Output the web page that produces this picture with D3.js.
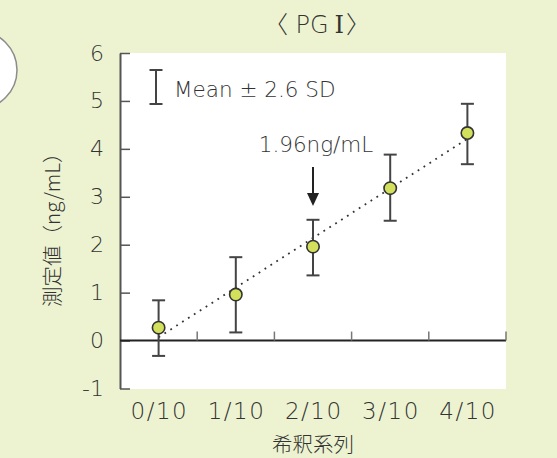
<!DOCTYPE html>
<html>
<head>
<meta charset="utf-8">
<script src="https://cdn.jsdelivr.net/npm/d3@7"></script>
<style>
  html, body { margin: 0; padding: 0; background: #edf3d1; }
  svg { display: block; }
  text { fill: #333; }
  .lat { font-family: "DejaVu Sans", sans-serif; font-weight: 300; }
  .cjk { font-family: "Noto Sans CJK JP", sans-serif; font-weight: 300; }
  .ser { font-family: "DejaVu Serif", "Liberation Serif", serif; font-weight: 300; }
</style>
</head>
<body>
<svg id="chart" width="557" height="458"></svg>
<script>
(function () {
  "use strict";

  /* ── Data ─────────────────────────────────────────────────────── */
  const categories = ["0/10", "1/10", "2/10", "3/10", "4/10"];
  const means      = [0.27, 0.96, 1.96, 3.18, 4.33];
  const upper      = [0.84, 1.74, 2.52, 3.88, 4.94];   // mean + 2.6 SD
  const lower      = [-0.32, 0.17, 1.36, 2.50, 3.68];  // mean - 2.6 SD
  const fitLine    = [0.07, 4.21];                      // fitted value at 0/10 and 4/10
  const yTicks     = [-1, 0, 1, 2, 3, 4, 5, 6];

  /* ── Layout ───────────────────────────────────────────────────── */
  const svg = d3.select("#chart");
  const L = 120, R = 506, T = 53, B = 388.5;

  const x = d3.scaleBand().domain(categories).range([L, R]).padding(0);
  const y = d3.scaleLinear().domain([-1, 6]).range([B, T]);
  const cx = c => x(c) + x.bandwidth() / 2;

  // corner decoration
  svg.append("circle")
    .attr("cx", -22).attr("cy", 70).attr("r", 39)
    .attr("fill", "#fff").attr("stroke", "#8c8c8c").attr("stroke-width", 1.5);

  // plot area
  svg.append("rect")
    .attr("x", L).attr("y", T)
    .attr("width", R - L).attr("height", B - T + 0.5)
    .attr("fill", "#fff");

  /* ── Y axis ───────────────────────────────────────────────────── */
  const yAxis = svg.append("g")
    .attr("transform", `translate(${L},0)`)
    .call(d3.axisLeft(y).tickValues(yTicks).tickFormat(d => String(d))
      .tickSizeInner(-10).tickSizeOuter(0).tickPadding(16));
  yAxis.select(".domain").attr("stroke", "#555").attr("stroke-width", 2);
  yAxis.selectAll(".tick line").attr("stroke", "#555").attr("stroke-width", 1.5);
  yAxis.selectAll(".tick text")
    .attr("class", "lat").attr("font-size", 22).attr("fill", "#333")
    .attr("font-family", null);

  /* ── Zero line + category ticks ───────────────────────────────── */
  svg.append("line")
    .attr("x1", L).attr("x2", R)
    .attr("y1", y(0)).attr("y2", y(0))
    .attr("stroke", "#222").attr("stroke-width", 2);

  svg.append("g").selectAll("line").data(categories).join("line")
    .attr("x1", d => x(d) + x.bandwidth()).attr("x2", d => x(d) + x.bandwidth())
    .attr("y1", y(0)).attr("y2", y(0) - 9)
    .attr("stroke", "#777").attr("stroke-width", 1.5);

  /* ── X labels ─────────────────────────────────────────────────── */
  const xAxis = svg.append("g")
    .attr("transform", `translate(0,${B})`)
    .call(d3.axisBottom(x).tickSize(0).tickPadding(14));
  xAxis.select(".domain").remove();
  xAxis.selectAll(".tick text")
    .attr("class", "lat").attr("font-size", 23).attr("fill", "#333")
    .attr("font-family", null).attr("letter-spacing", 1.5).attr("dx", 0.75);

  /* ── Fit line ─────────────────────────────────────────────────── */
  svg.append("line")
    .attr("x1", cx(categories[0])).attr("y1", y(fitLine[0]))
    .attr("x2", cx(categories[categories.length - 1])).attr("y2", y(fitLine[1]))
    .attr("stroke", "#333").attr("stroke-width", 1.8)
    .attr("stroke-dasharray", "1.8,5.2");

  /* ── Error bars ───────────────────────────────────────────────── */
  const cap = 6.5;
  const bars = svg.append("g").attr("stroke", "#444").attr("stroke-width", 2);
  categories.forEach((c, i) => {
    const px = cx(c);
    bars.append("line").attr("x1", px).attr("x2", px).attr("y1", y(upper[i])).attr("y2", y(lower[i]));
    bars.append("line").attr("x1", px - cap).attr("x2", px + cap).attr("y1", y(upper[i])).attr("y2", y(upper[i]));
    bars.append("line").attr("x1", px - cap).attr("x2", px + cap).attr("y1", y(lower[i])).attr("y2", y(lower[i]));
  });

  /* ── Points ───────────────────────────────────────────────────── */
  svg.append("g").selectAll("circle").data(categories).join("circle")
    .attr("cx", d => cx(d)).attr("cy", (d, i) => y(means[i]))
    .attr("r", 6.2)
    .attr("fill", "#d3e05c").attr("stroke", "#333").attr("stroke-width", 1.6);

  /* ── Annotation arrow ─────────────────────────────────────────── */
  const ax = cx(categories[2]);
  svg.append("line")
    .attr("x1", ax).attr("x2", ax).attr("y1", 167).attr("y2", 196)
    .attr("stroke", "#222").attr("stroke-width", 2);
  svg.append("path")
    .attr("d", `M${ax - 6},${193}L${ax + 6},${193}L${ax},${206}Z`)
    .attr("fill", "#222");
  svg.append("text").attr("class", "lat")
    .attr("x", ax + 3).attr("y", 152).attr("text-anchor", "middle")
    .attr("font-size", 21.5).text("1.96ng/mL");

  /* ── Legend ───────────────────────────────────────────────────── */
  const lx = 156, ly1 = 70, ly2 = 104;
  const lg = svg.append("g").attr("stroke", "#444").attr("stroke-width", 2);
  lg.append("line").attr("x1", lx).attr("x2", lx).attr("y1", ly1).attr("y2", ly2);
  lg.append("line").attr("x1", lx - cap).attr("x2", lx + cap).attr("y1", ly1).attr("y2", ly1);
  lg.append("line").attr("x1", lx - cap).attr("x2", lx + cap).attr("y1", ly2).attr("y2", ly2);
  svg.append("text").attr("class", "lat")
    .attr("x", 174).attr("y", 97).attr("font-size", 21.5)
    .text("Mean ± 2.6 SD");

  /* ── Titles ───────────────────────────────────────────────────── */
  const title = svg.append("text")
    .attr("x", (L + R) / 2 + 4).attr("y", 33).attr("text-anchor", "middle")
    .attr("font-size", 24);
  title.append("tspan").attr("class", "cjk").text("〈");
  title.append("tspan").attr("class", "lat").text(" PG");
  title.append("tspan").attr("class", "ser").attr("dx", 6).text("Ⅰ");
  title.append("tspan").attr("class", "cjk").attr("dx", 2).text("〉");

  svg.append("text").attr("class", "cjk")
    .attr("x", cx(categories[2])).attr("y", 452).attr("text-anchor", "middle")
    .attr("font-size", 20.5).text("希釈系列");

  svg.append("text").attr("class", "cjk")
    .attr("transform", `translate(60,${(T + B) / 2 + 4}) rotate(-90)`)
    .attr("text-anchor", "middle").attr("font-size", 20.5)
    .text("測定値（ng/mL）");
})();
</script>
</body>
</html>
